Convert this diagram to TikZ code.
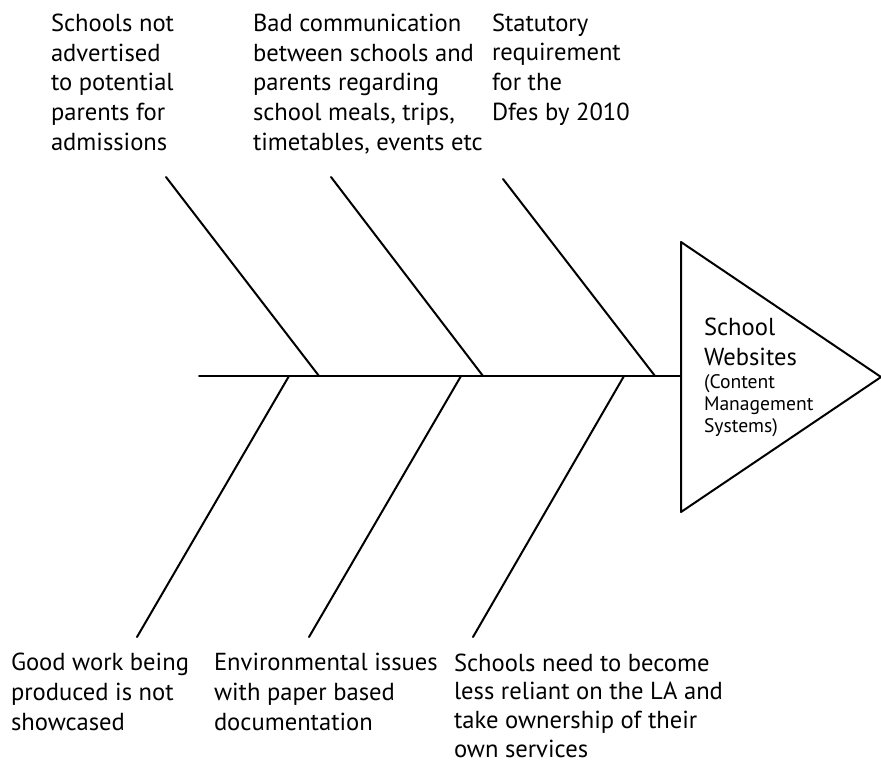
\documentclass[tikz,border=0pt]{standalone}
\usepackage{fontspec}
\setmainfont{PT Sans}
\begin{document}
\begin{tikzpicture}[x=0.5pt, y=-0.5pt, line width=1pt, line join=round, line cap=round,
	cause/.style={anchor=base west, align=left, inner sep=0pt, font=\fontsize{12.3}{14.8}\selectfont},
	effect/.style={anchor=base west, align=left, inner sep=0pt, font=\fontsize{12.3}{15}\selectfont},
	effectsub/.style={anchor=base west, align=left, inner sep=0pt, font=\fontsize{9.8}{11}\selectfont}]
	\useasboundingbox (0,0) rectangle (881,762);
	\coordinate (tail) at (199,376);
	\coordinate (head) at (681,376);
	\coordinate (hdtop) at (681,242);
	\coordinate (hdtip) at (881,377);
	\coordinate (hdbot) at (681,512);
	\draw (hdtop)--(hdtip)--(hdbot)--cycle;
	\draw (tail)--(head);
	\coordinate (u1) at (166,177); \coordinate (j1) at (319,376);
	\coordinate (u2) at (331,177); \coordinate (j2) at (483,376);
	\coordinate (u3) at (503,179); \coordinate (j3) at (655,376);
	\coordinate (d1) at (137,637); \coordinate (k1) at (289,376);
	\coordinate (d2) at (309,637); \coordinate (k2) at (461,376);
	\coordinate (d3) at (473,637); \coordinate (k3) at (624,376);
	\foreach \i in {1,2,3} {
		\draw (u\i)--(j\i);
		\draw (d\i)--(k\i);
	}
	\node[cause] (advert) at (50,150) {Schools not\\advertised\\to potential\\parents for\\admissions};
	\node[cause] (comms) at (252,150) {Bad communication\\between schools and\\parents regarding\\school meals, trips,\\timetables, events etc};
	\node[cause] (statute) at (491,120) {Statutory\\requirement\\for the\\Dfes by 2010};
	\node[cause] (work) at (10,730) {Good work being\\produced is not\\showcased};
	\node[cause] (paper) at (213,730) {Environmental issues\\with paper based\\documentation};
	\node[cause, font=\fontsize{12.3}{14.3}\selectfont] (relian) at (453,757) {Schools need to become\\less reliant on the LA and\\take ownership of their\\own services};
	\node[effect] (sites) at (703,365) {School\\Websites};
	\node[effectsub] (cms) at (703,432) {(Content\\Management\\Systems)};
\end{tikzpicture}
\end{document}
